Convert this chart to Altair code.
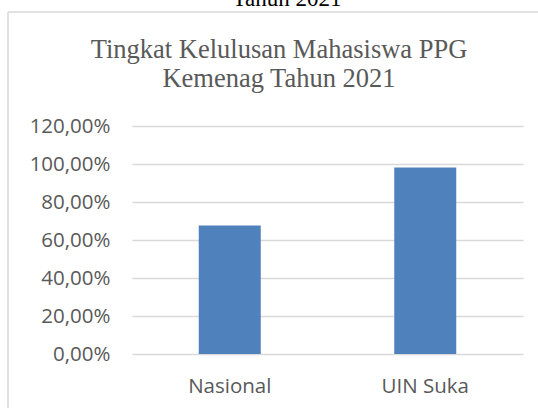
import altair as alt
import pandas as pd

categories = ["Nasional", "UIN Suka"]
values = [0.676, 0.982]
y_ticks = [0, 0.2, 0.4, 0.6, 0.8, 1.0, 1.2]
title_lines = ["Tingkat Kelulusan Mahasiswa PPG", "Kemenag Tahun 2021"]
cut_title = "Tahun 2021"

df = pd.DataFrame({"kategori": categories, "nilai": values})
one = pd.DataFrame({"a": [0]})

W, H = 391, 228

bars = alt.Chart(df).mark_bar(size=62, color="#4f81bd").encode(
    x=alt.X("kategori:N", sort=categories, title=None,
            scale=alt.Scale(paddingInner=0, paddingOuter=0),
            axis=alt.Axis(labelAngle=0, domain=False, ticks=False,
                          labelFont="Open Sans", labelFontSize=20.5,
                          labelColor="#595959", labelPadding=22)),
    y=alt.Y("nilai:Q", title=None,
            scale=alt.Scale(domain=[0, 1.2], nice=False),
            axis=alt.Axis(values=y_ticks, domain=False, ticks=False,
                          labelExpr="replace(format(datum.value, '.2%'), '.', ',')",
                          labelFont="Open Sans", labelFontSize=20.5,
                          labelColor="#595959", labelPadding=22,
                          gridColor="#d9d9d9", gridWidth=1.5)),
)

title = alt.Chart(one).mark_text(
    text=title_lines, font="Liberation Serif", fontSize=26.5,
    color="#595959", align="center", baseline="alphabetic", lineHeight=29,
).encode(x=alt.value(147), y=alt.value(-68))

cut = alt.Chart(one).mark_text(
    text=cut_title, font="Liberation Serif", fontSize=23,
    color="#000000", align="center", baseline="alphabetic",
).encode(x=alt.value(155), y=alt.value(-120))

top_border = alt.Chart(one).mark_rule(color="#d9d9d9", strokeWidth=1.5).encode(
    x=alt.value(-124), x2=alt.value(420), y=alt.value(-114))
left_border = alt.Chart(one).mark_rule(color="#d9d9d9", strokeWidth=1.5).encode(
    x=alt.value(-124), y=alt.value(-114), y2=alt.value(300))

chart = alt.layer(bars, top_border, left_border, title, cut).properties(
    width=W, height=H,
    autosize=alt.AutoSizeParams(type="none"),
    padding={"left": 132, "top": 126, "right": 15, "bottom": 54},
    background="white",
).configure_view(strokeWidth=0)

chart.save("out.html", embed_options={"renderer": "svg", "actions": False})
